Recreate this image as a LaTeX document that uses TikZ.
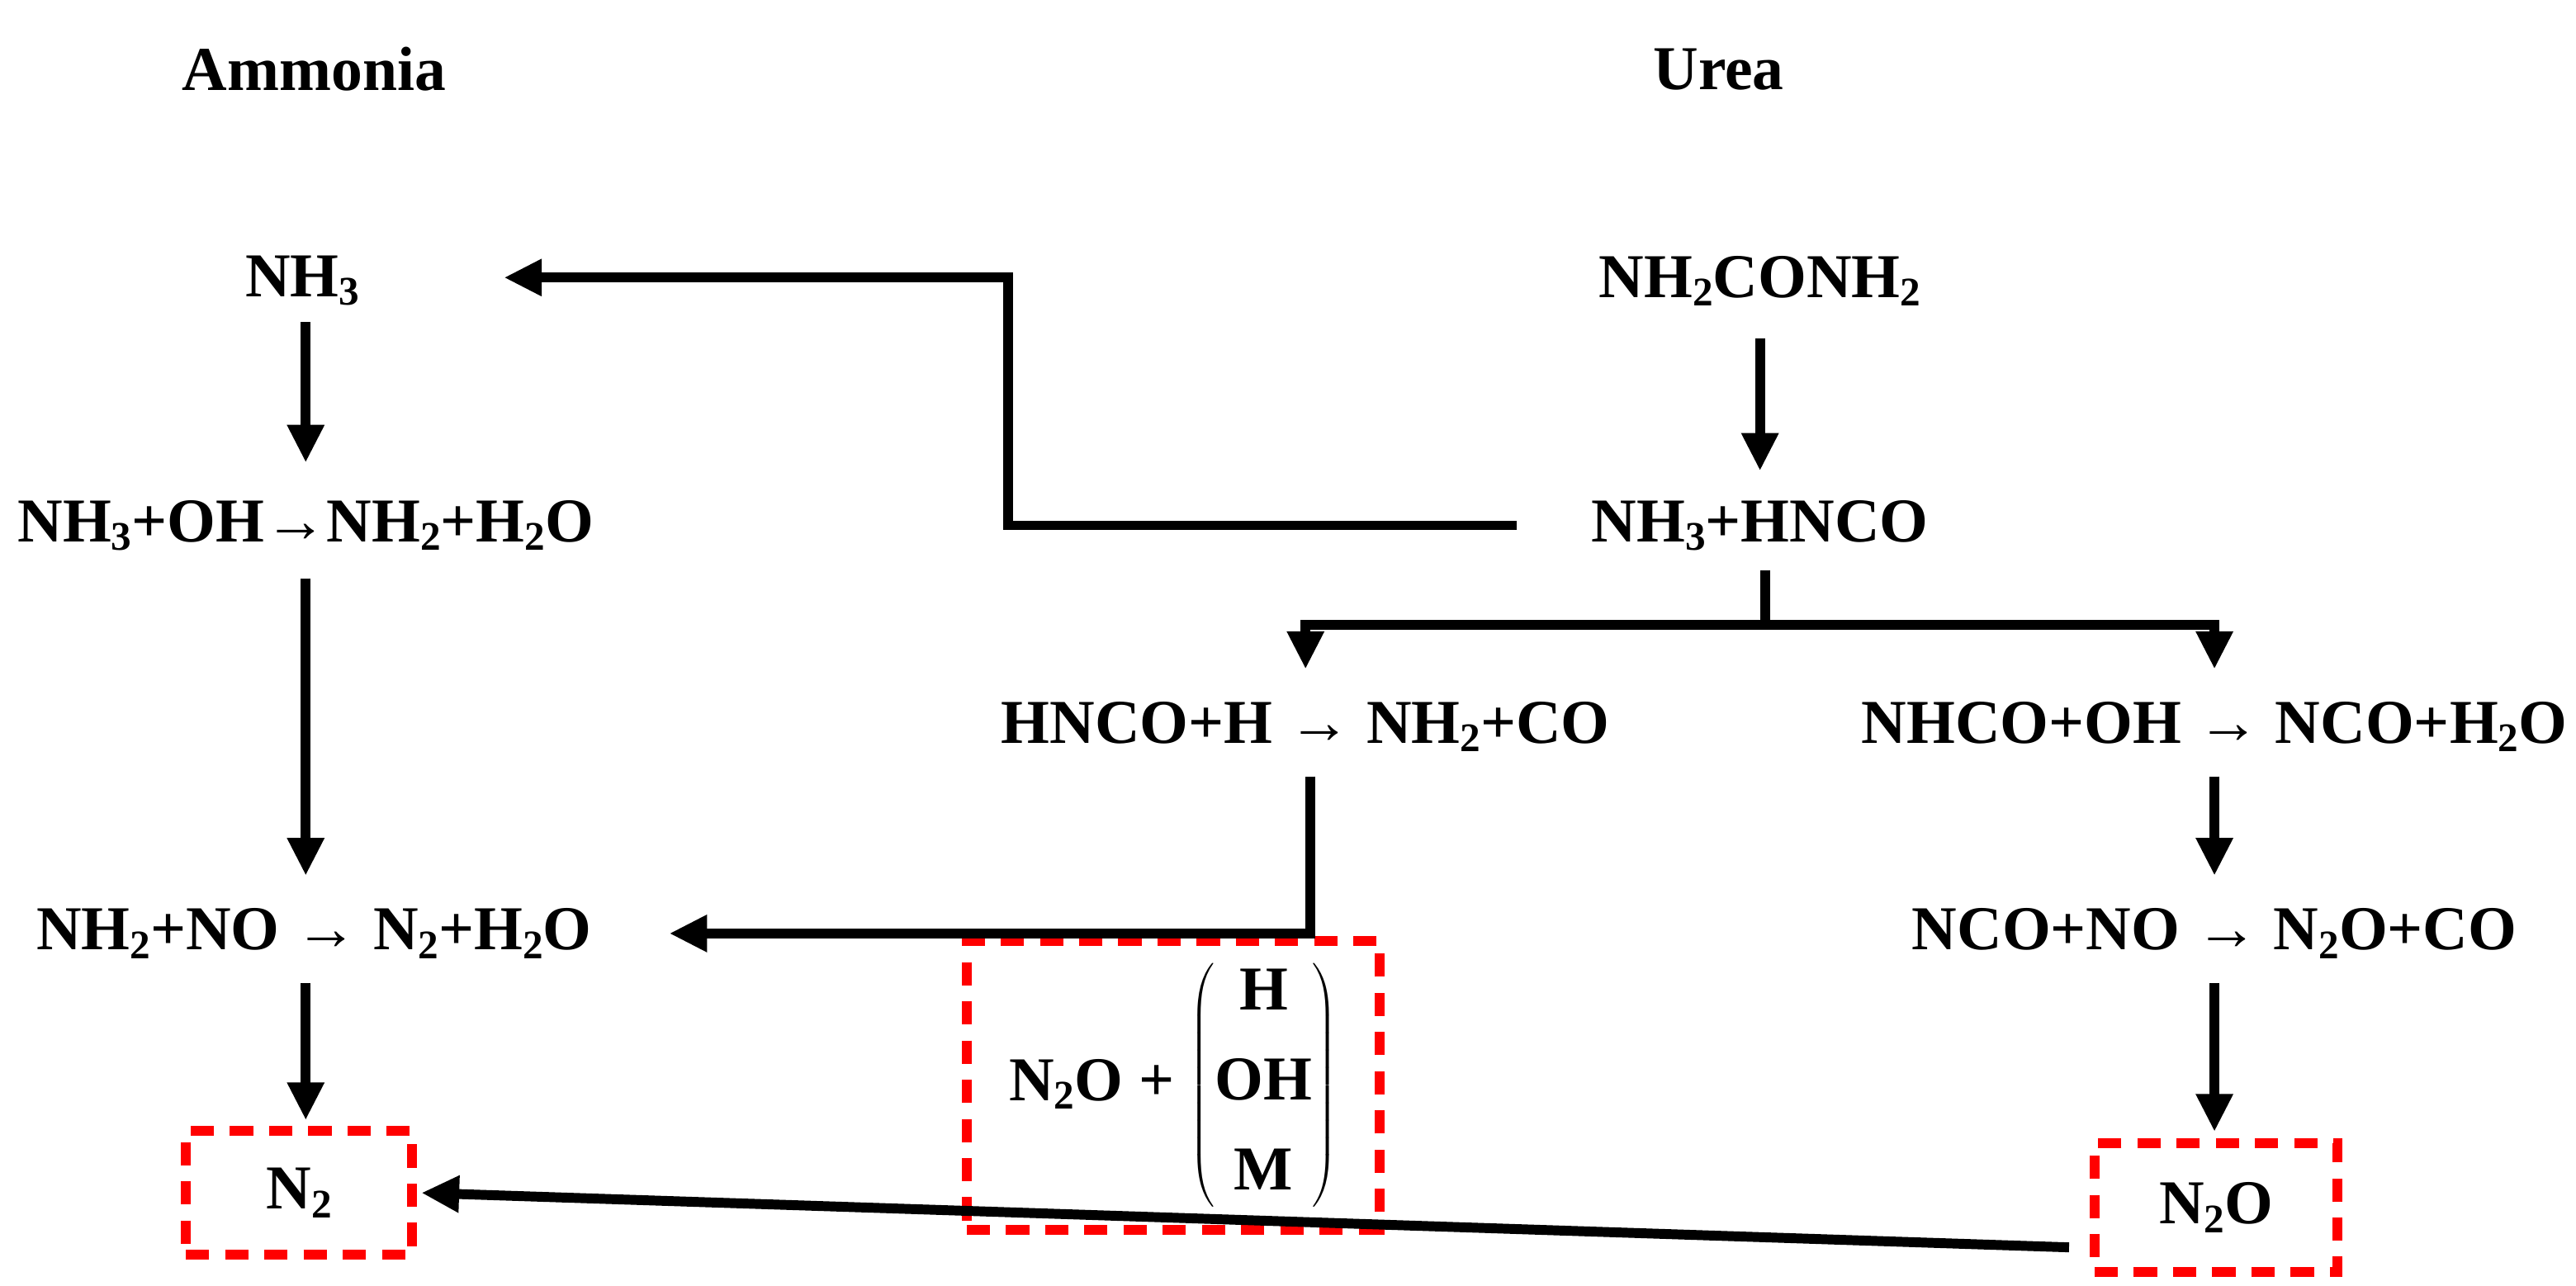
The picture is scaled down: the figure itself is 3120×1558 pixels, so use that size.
\documentclass[tikz,border=0pt]{standalone}
\usepackage{fontspec}
\setmainfont{Liberation Serif}
\usetikzlibrary{arrows.meta}
\newcommand{\sbs}[1]{\raisebox{-0.3ex}{\fontsize{14}{14}\selectfont #1}}
\begin{document}
\begin{tikzpicture}[x=0.01cm,y=-0.01cm,
  t/.style={font=\fontsize{21.5}{25}\selectfont\bfseries,inner sep=2pt},
  ln/.style={line width=3.4pt},
  ar/.style={ln,-{Triangle[length=13pt,width=12pt]}},
  box/.style={draw=red,line width=3.4pt,dash pattern=on 8pt off 5.5pt}]
\useasboundingbox (0,0) rectangle (3120,1558);
\begin{scope}[x=0.02cm,y=-0.02cm]
\node[t] (amm) at (190,42) {Ammonia};
\node[t] (urea) at (1040,42) {Urea};
\node[t] (nh3) at (183,170) {NH\sbs{3}};
\node[t] (urea1) at (1065,170) {NH\sbs{2}CONH\sbs{2}};
\node[t] (r1) at (185,318) {NH\sbs{3}+OH→NH\sbs{2}+H\sbs{2}O};
\node[t] (hnco) at (1065,318) {NH\sbs{3}+HNCO};
\node[t] (r2) at (790,440) {HNCO+H → NH\sbs{2}+CO};
\node[t] (r3) at (1340,440) {NHCO+OH → NCO+H\sbs{2}O};
\node[t] (r4) at (190,565) {NH\sbs{2}+NO → N\sbs{2}+H\sbs{2}O};
\node[t] (r5) at (1340,565) {NCO+NO → N\sbs{2}O+CO};
\node[box,t,minimum width=250*0.02cm,minimum height=175*0.02cm] (mb) at (710,657)
  {N\sbs{2}O + $\left(\mbox{\begin{tabular}{@{}c@{}}H\\[6pt]OH\\[6pt]M\end{tabular}}\right)$};
\node[box,t,minimum width=137*0.02cm,minimum height=75*0.02cm] (n2) at (181,722) {N\sbs{2}};
\node[box,t,minimum width=147*0.02cm,minimum height=78*0.02cm] (n2o) at (1341,731) {N\sbs{2}O};
\draw[ar] (918,318) -- (610,318) -- (610,168) -- (305,168);
\draw[ar] (1065,205) -- (1065,285);
\draw[ar] (185,195) -- (185,280);
\draw[ar] (185,350) -- (185,530);
\draw[ln] (1068,345) -- (1068,378);
\draw[ar] (1068,378) -| (790,405);
\draw[ar] (1068,378) -| (1340,405);
\draw[ar] (793,470) -- (793,565) -- (405,565);
\draw[ar] (1340,470) -- (1340,530);
\draw[ar] (1340,595) -- (1340,685);
\draw[ar] (185,595) -- (185,678);
\draw[ar] (1252,755) -- (255,722);
\end{scope}
\end{tikzpicture}
\end{document}
